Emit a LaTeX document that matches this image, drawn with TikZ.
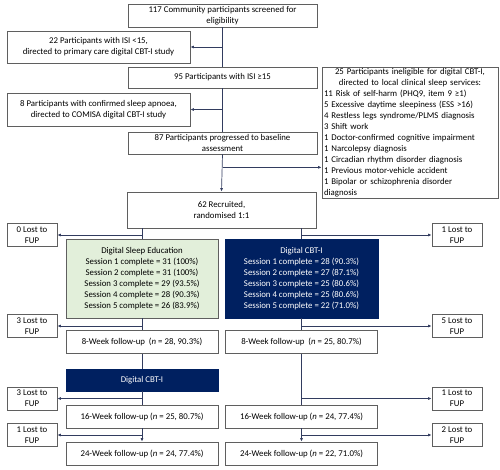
\documentclass[tikz,border=0pt]{standalone}
\usepackage{fontspec}
\setmainfont{Carlito}
\usepackage{xcolor}
\usetikzlibrary{arrows.meta,calc,positioning}
\definecolor{navy}{RGB}{0,32,96}
\definecolor{paleGreen}{RGB}{226,239,218}
\definecolor{boxgray}{RGB}{95,95,95}
\definecolor{linkblue}{RGB}{50,60,95}

\begin{document}
\begin{tikzpicture}[
    x=1pt, y=-1pt,
    font=\fontsize{8.8}{11}\selectfont,
    box/.style={draw=boxgray, line width=0.7pt, rectangle, inner sep=1pt, align=center},
    wide/.style={box, minimum width=189pt},
    side/.style={box, minimum width=183pt},
    arm/.style={box, minimum width=152pt, minimum height=23pt},
    lost/.style={box, minimum width=50pt, minimum height=23pt},
    darkbox/.style={box, draw=navy, fill=navy, text=white},
    conn/.style={draw=linkblue, line width=0.7pt},
    arr/.style={conn, -{Latex[length=3.5pt,width=3pt]}}]
\useasboundingbox (0,0) rectangle (500,469);

\node[wide, minimum height=23pt] (SCREEN) at (222.5,15.5) {117 Community participants screened for\\eligibility};
\node[side, minimum height=32pt] (ISILOW) at (98.5,47) {22 Participants with ISI <15,\\directed to primary care digital CBT-I study};
\node[wide, minimum height=21pt] (ISIHIGH) at (222.5,77.5) {95 Participants with ISI ≥15};
\node[side, minimum height=33pt] (APNOEA) at (98.5,109.5) {8 Participants with confirmed sleep apnoea,\\directed to COMISA digital CBT-I study};
\node[wide, minimum height=22pt] (BASELINE) at (222.5,143) {87 Participants progressed to baseline\\assessment};
\node[box, align=left, text width=172pt, inner xsep=2pt, minimum height=131pt] (INELIG) at (410,132.5) {%
    \makebox[172pt]{25 Participants ineligible for digital CBT-I,}\\
    \makebox[172pt]{directed to local clinical sleep services:}\\
    11 Risk of self-harm (PHQ9, item 9 ≥1)\\
    5 Excessive daytime sleepiness (ESS >16)\\
    4 Restless legs syndrome/PLMS diagnosis\\
    3 Shift work\\
    1 Doctor-confirmed cognitive impairment\\
    1 Narcolepsy diagnosis\\
    1 Circadian rhythm disorder diagnosis\\
    1 Previous motor-vehicle accident\\
    1 Bipolar or schizophrenia disorder\\
    diagnosis};
\node[wide, minimum height=36pt] (RECRUIT) at (221.5,210) {62 Recruited,\\randomised 1:1};

\node[lost] (LOSSA) at (32,235) {0 Lost to\\FUP};
\node[lost] (LOSSB) at (457,235) {1 Lost to\\FUP};
\node[box, fill=paleGreen, minimum width=152pt, minimum height=79pt] (EDU) at (142,278.5) {Digital Sleep Education\\Session 1 complete = 31 (100\%)\\Session 2 complete = 31 (100\%)\\Session 3 complete = 29 (93.5\%)\\Session 4 complete = 28 (90.3\%)\\Session 5 complete = 26 (83.9\%)};
\node[darkbox, minimum width=153pt, minimum height=79pt] (CBT) at (301.5,278.5) {Digital CBT-I\\Session 1 complete = 28 (90.3\%)\\Session 2 complete = 27 (87.1\%)\\Session 3 complete = 25 (80.6\%)\\Session 4 complete = 25 (80.6\%)\\Session 5 complete = 22 (71.0\%)};
\node[lost] (LOSSC) at (32,326) {3 Lost to\\FUP};
\node[lost] (LOSSD) at (457,326) {5 Lost to\\FUP};
\node[arm] (WKEIGHTL) at (142,342) {8-Week follow-up\ \ (\textit{n} = 28, 90.3\%)};
\node[arm] (WKEIGHTR) at (301.5,342) {8-Week follow-up\ \ (\textit{n} = 25, 80.7\%)};
\node[darkbox, minimum width=152pt, minimum height=22pt] (CROSS) at (142,380) {Digital CBT-I};
\node[lost] (LOSSE) at (32,398.5) {3 Lost to\\FUP};
\node[lost] (LOSSF) at (457,398.5) {1 Lost to\\FUP};
\node[arm] (WKSIXTEENL) at (142,416.5) {16-Week follow-up (\textit{n} = 25, 80.7\%)};
\node[arm] (WKSIXTEENR) at (301.5,416.5) {16-Week follow-up (\textit{n} = 24, 77.4\%)};
\node[lost] (LOSSG) at (32,435) {1 Lost to\\FUP};
\node[lost] (LOSSH) at (457,435) {2 Lost to\\FUP};
\node[arm] (WKTWENTYFOURL) at (142,453.5) {24-Week follow-up (\textit{n} = 24, 77.4\%)};
\node[arm] (WKTWENTYFOURR) at (301.5,453.5) {24-Week follow-up (\textit{n} = 22, 71.0\%)};

\coordinate (EXCL) at ($(BASELINE.south)+(0,13)$);
\path[conn] (SCREEN.south) -- (ISIHIGH.north);
\path[conn] (ISIHIGH.south) -- (BASELINE.north);
\path[arr] (BASELINE.south) -- (RECRUIT.north);
\path[arr] (SCREEN.south |- ISILOW.east) -- (ISILOW.east);
\path[arr] (ISIHIGH.south |- APNOEA.east) -- (APNOEA.east);
\path[arr] (EXCL) -- (EXCL -| INELIG.west);

\path[conn] (RECRUIT.south -| EDU.north) -- (EDU.north);
\path[conn] (RECRUIT.south -| CBT.north) -- (CBT.north);
\path[arr] (EDU.north |- LOSSA.east) -- (LOSSA.east);
\path[arr] (CBT.north |- LOSSB.west) -- (LOSSB.west);

\path[conn] (EDU.south) -- (WKEIGHTL.north);
\path[conn] (CBT.south) -- (WKEIGHTR.north);
\path[arr] (EDU.south |- LOSSC.east) -- (LOSSC.east);
\path[arr] (CBT.south |- LOSSD.west) -- (LOSSD.west);

\path[conn] (WKEIGHTL.south) -- (CROSS.north);
\path[conn] (CROSS.south) -- (WKSIXTEENL.north);
\path[arr] (CROSS.south |- LOSSE.east) -- (LOSSE.east);
\path[arr] (WKSIXTEENL.south) -- (WKTWENTYFOURL.north);
\path[arr] (WKSIXTEENL.south |- LOSSG.east) -- (LOSSG.east);

\path[conn] (WKEIGHTR.south) -- (WKSIXTEENR.north);
\path[arr] (WKEIGHTR.south |- LOSSF.west) -- (LOSSF.west);
\path[arr] (WKSIXTEENR.south) -- (WKTWENTYFOURR.north);
\path[arr] (WKSIXTEENR.south |- LOSSH.west) -- (LOSSH.west);

\end{tikzpicture}
\end{document}
